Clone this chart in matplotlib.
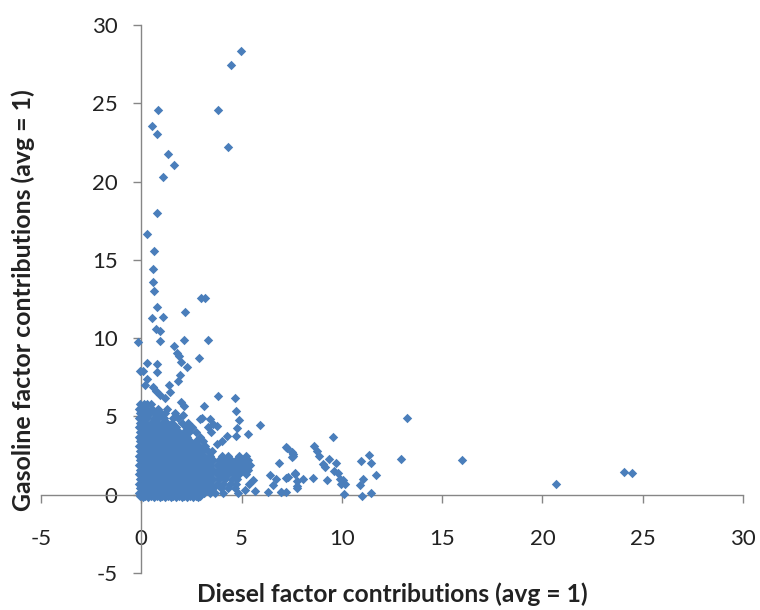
"""Scatter of diesel vs gasoline factor contributions"""

import matplotlib
matplotlib.use('Agg')
import matplotlib.pyplot as plt

# Isolated points
diesel_sparse = [4.98, 4.46, 0.81, 3.83, 0.51, 0.77, 4.31, 1.32, 1.64, 1.06, 0.77, 0.27, 0.61, 0.59, 0.56, 0.62,
                 2.98, 3.18, 0.77, 0.52, 1.09, 2.2, 0.72, 0.92, 2.12, 3.32, 0.91,
                 -0.17, 1.62, 1.79, 1.89, 1.97, 2.87, 2.3, 0.29, 0.79, -0.07, 0.09, 0.79, 1.92, 1.84, 0.26, 0.17,
                 1.39, 0.59, 0.72, 0.92, 1.42, 1.17, 3.8, 4.66, 2.0, 2.12, 3.12, 4.71, 2.08, 2.95, 3.42, 4.88,
                 3.58, 3.75, 5.91, 4.78, 4.71, 5.33, 4.25, 4.0, 3.75, 7.24, 7.49, 7.57, 6.87, 6.41, 7.66, 7.24,
                 6.74, 6.57, 6.32, 6.99, 7.74, 5.58, 5.16, 5.66,
                 13.23, 9.54, 8.62, 7.27, 8.74, 8.87, 7.54, 7.49, 9.35, 9.07, 9.15, 9.73, 10.93, 11.35, 11.43,
                 12.94, 16.0, 9.62, 9.82, 7.66, 7.32, 8.07, 8.55, 9.27, 9.9, 10.07, 10.15, 9.98, 11.03, 10.9, 11.7,
                 7.74, 7.74, 6.99, 7.24, 10.11, 11.0, 11.43, 20.67, 24.06, 24.46]
gasoline_sparse = [28.37, 27.43, 24.6, 24.56, 23.58, 23.07, 22.2, 21.79, 21.04, 20.32, 18.0, 16.68, 15.55, 14.42, 13.61, 13.02,
                   12.54, 12.54, 11.97, 11.31, 11.37, 11.65, 10.56, 10.44, 9.9, 9.9, 9.84,
                   9.73, 9.52, 9.05, 8.84, 8.48, 8.73, 8.13, 8.41, 8.37, 7.9, 7.88, 7.81, 7.67, 7.28, 7.39, 7.03,
                   6.98, 6.88, 6.6, 6.39, 6.56, 6.18, 6.28, 6.18, 5.9, 5.64, 5.64, 5.35, 5.11, 4.84, 4.84, 4.79,
                   4.54, 4.36, 4.47, 4.26, 3.77, 3.9, 3.77, 3.41, 3.26, 3.05, 2.7, 2.49, 2.03, 1.23, 1.41, 1.09,
                   1.02, 0.64, 0.19, 0.19, 0.53, 0.96, 0.32, 0.21,
                   4.88, 3.69, 3.13, 3.0, 2.77, 2.49, 2.62, 2.38, 2.3, 1.96, 1.79, 2.03, 2.13, 2.51, 2.0,
                   2.3, 2.24, 1.49, 1.39, 1.34, 1.13, 1.02, 1.04, 0.94, 1.02, 0.96, 0.7, 0.7, 1.0, 0.59, 1.28,
                   0.85, 0.43, 0.15, 0.15, 0.02, -0.11, 0.11, 0.7, 1.47, 1.41]

# The solid mass near the origin, read row by row
dense_gasoline = [5.8, 5.5, 5.2, 4.9, 4.6, 4.3, 4.0, 3.7, 3.4, 3.1, 2.8, 2.5, 2.2, 1.9, 1.6, 1.3, 1.0, 0.7, 0.4, 0.1, -0.1, -0.15]
dense_diesel = [
  [-0.05, 0.12, 0.3, 0.47],
  [-0.1, 0.1, 0.28, 0.55, 0.83, 1.3],
  [-0.05, 0.2, 0.42, 0.7, 0.98, 1.2, 1.7],
  [-0.1, 0.08, 0.3, 0.62, 0.85, 1.12, 1.6, 1.85, 3.02],
  [-0.05, 0.2, 0.48, 0.78, 1.02, 1.3, 1.52, 2.02, 2.35],
  [-0.1, 0.1, 0.35, 0.62, 0.92, 1.2, 1.45, 1.75, 2.25, 2.55, 3.35],
  [-0.05, 0.22, 0.5, 0.78, 1.05, 1.33, 1.6, 1.9, 2.12, 2.4, 2.72, 3.5],
  [-0.1, 0.1, 0.35, 0.62, 0.9, 1.2, 1.47, 1.75, 2.02, 2.3, 2.95],
  [-0.05, 0.22, 0.5, 0.78, 1.05, 1.33, 1.6, 1.88, 2.15, 2.45, 2.75, 3.1],
  [-0.1, 0.1, 0.35, 0.65, 0.92, 1.2, 1.47, 1.75, 2.02, 2.3, 2.6, 2.88, 3.2],
  [-0.05, 0.22, 0.5, 0.78, 1.05, 1.33, 1.6, 1.88, 2.15, 2.45, 2.75, 3.02, 3.35, 3.55],
  [-0.1, 0.1, 0.35, 0.65, 0.92, 1.2, 1.47, 1.75, 2.02, 2.3, 2.6, 2.88, 3.15, 3.45, 4.0, 4.3, 4.85, 5.2],
  [-0.05, 0.22, 0.5, 0.78, 1.05, 1.33, 1.6, 1.88, 2.15, 2.45, 2.75, 3.02, 3.3, 3.6, 3.88, 4.15, 4.45, 4.7, 5.0, 5.3],
  [-0.1, 0.1, 0.35, 0.65, 0.92, 1.2, 1.47, 1.75, 2.02, 2.3, 2.6, 2.88, 3.15, 3.45, 3.75, 4.0, 4.3, 4.6, 4.85, 5.15, 5.4],
  [-0.05, 0.22, 0.5, 0.78, 1.05, 1.33, 1.6, 1.88, 2.15, 2.45, 2.75, 3.02, 3.3, 3.6, 3.88, 4.15, 4.45, 4.7, 5.0, 5.3],
  [-0.1, 0.1, 0.35, 0.65, 0.92, 1.2, 1.47, 1.75, 2.02, 2.3, 2.6, 2.88, 3.15, 3.45, 3.75, 4.0, 4.3, 4.6, 4.85, 5.2],
  [-0.05, 0.22, 0.5, 0.78, 1.05, 1.33, 1.6, 1.88, 2.15, 2.45, 2.75, 3.02, 3.3, 3.6, 3.88, 4.15, 4.5, 4.75],
  [-0.1, 0.1, 0.35, 0.65, 0.92, 1.2, 1.47, 1.75, 2.02, 2.3, 2.6, 2.88, 3.15, 3.45, 3.75, 4.05, 4.4, 4.7, 5.35],
  [-0.05, 0.22, 0.5, 0.78, 1.05, 1.33, 1.6, 1.88, 2.15, 2.45, 2.75, 3.02, 3.3, 3.6, 3.95, 4.3, 4.65],
  [-0.1, 0.1, 0.35, 0.65, 0.92, 1.2, 1.47, 1.75, 2.02, 2.3, 2.6, 2.88, 3.15, 3.45, 3.7, 4.05, 4.8],
  [-0.05, 0.2, 0.5, 0.78, 1.05, 1.33, 1.6, 1.88, 2.15, 2.45, 2.75, 2.95],
  [0.08, 0.35, 0.65, 0.92, 1.2, 1.47, 1.75, 2.02, 2.3, 2.6, 2.85],
]

x_ticks = [-5, 0, 5, 10, 15, 20, 25, 30]
y_ticks = [-5, 0, 5, 10, 15, 20, 25, 30]

diesel_all, gasoline_all = list(diesel_sparse), list(gasoline_sparse)
for gas, row in zip(dense_gasoline, dense_diesel):
  diesel_all += row
  gasoline_all += [gas] * len(row)

plt.rcParams['font.family'] = ['Lato', 'DejaVu Sans']
plt.rcParams['axes.unicode_minus'] = False  # Tick labels use a plain hyphen

fig = plt.figure(figsize=(7.6, 6.1), dpi=100)
ax = fig.add_axes([41 / 760, 1 - 573 / 610, 702 / 760, 548 / 610])
ax.scatter(diesel_all, gasoline_all, marker='D', s=23, color='#4a7ebb', linewidths=0, clip_on=False, zorder=3)

ax.set_xlim(-5, 30)
ax.set_ylim(-5, 30)
ax.set_xticks(x_ticks)
ax.set_yticks(y_ticks)
for side in ['top', 'right']:
  ax.spines[side].set_visible(False)
ax.spines['left'].set_position(('data', 0))
ax.spines['bottom'].set_position(('data', 0))
for side in ['left', 'bottom']:
  ax.spines[side].set_color('#868686')
  ax.spines[side].set_linewidth(1.0)
ax.tick_params(axis='x', length=5.5, width=1.0, color='#868686', labelsize=16, labelcolor='#222222', pad=19)
ax.tick_params(axis='y', length=5.5, width=1.0, color='#868686', labelsize=16, labelcolor='#222222', pad=11.5)

fig.text(392 / 760, 1 - 594 / 610, 'Diesel factor contributions (avg = 1)', fontsize=17.7, fontweight='bold',
         color='#222222', ha='center', va='center')
fig.text(23 / 760, 1 - 300 / 610, 'Gasoline factor contributions (avg = 1)', fontsize=17.9, fontweight='bold',
         color='#222222', ha='center', va='center', rotation=90)

fig.savefig('out.png', dpi=100)
